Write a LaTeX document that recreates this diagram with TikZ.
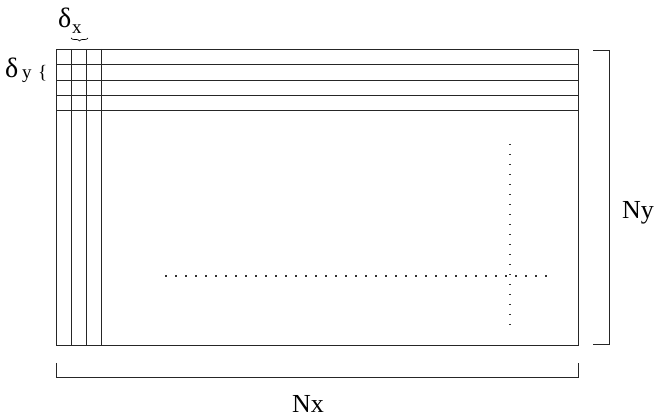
\documentclass[tikz,border=0pt]{standalone}
\usepackage{fontspec}
\setmainfont{Liberation Serif}
\usetikzlibrary{decorations.pathreplacing}
\begin{document}
\begin{tikzpicture}[x=1pt,y=-1pt,
  grid/.style={line width=0.9pt,draw=black!85},
  dotline/.style={line width=1.3pt,draw=black!80,dash pattern=on 1.5pt off 8.5pt},
  lbl/.style={font=\fontsize{26}{28}\selectfont,inner sep=0pt,anchor=base west},
  big/.style={font=\fontsize{28}{30}\selectfont,inner sep=0pt,anchor=base west},
  sub/.style={font=\fontsize{19}{21}\selectfont,inner sep=0pt,anchor=base west}]
\useasboundingbox (0,0) rectangle (657,419);
% main rectangle
\draw[grid] (56,49) rectangle (578,345);
% horizontal strips
\foreach \y in {64,80,95,110} \draw[grid] (56,\y) -- (578,\y);
% vertical strips
\foreach \x in {71,86,101} \draw[grid] (\x,49) -- (\x,345);
% dotted lines
\draw[dotline] (165,276) -- (552,276);
\draw[dotline] (510,144) -- (510,328);
% brackets
\draw[grid] (56,363) -- (56,377) -- (578,377) -- (578,363);
\draw[grid] (593,50) -- (609,50) -- (609,344) -- (593,344);
% labels
\node[lbl,anchor=base] (nx) at (308,413) {Nx};
\node[lbl,anchor=base] (ny) at (638,219) {Ny};
\node[big] (dx) at (58,28) {δ};
\node[sub] (dxs) at (72,34) {x};
\draw[line width=0.7pt,decorate,decoration={brace,amplitude=3pt}] (88,38) -- (71,38);
\node[big] (dy) at (5,78) {δ};
\node[sub] (dys) at (22,79) {y};
\node[sub] (br) at (38,79) {\{};
\end{tikzpicture}
\end{document}
